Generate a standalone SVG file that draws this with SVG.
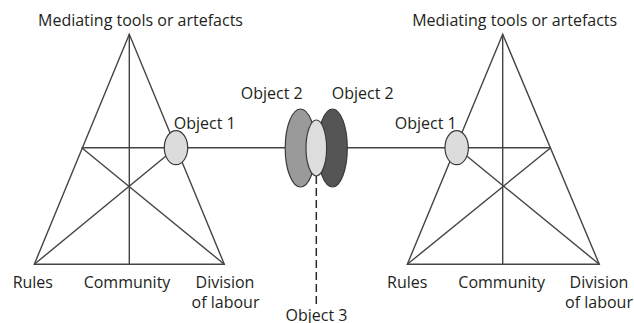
<svg xmlns="http://www.w3.org/2000/svg" width="634" height="323" viewBox="0 0 634 323">
  <style>
    .edge { stroke: #444444; stroke-width: 1.4; fill: none; }
    .dash { stroke: #2a2a2a; stroke-width: 1.5; fill: none; stroke-dasharray: 8 4; }
    .ell { stroke: #3a3a3a; stroke-width: 1.2; }
    text { font-family: "Open Sans", "Liberation Sans", sans-serif; font-size: 16px; fill: #231f20; text-anchor: middle; }
  </style>

  <!-- left activity system -->
  <g id="left-system">
    <path class="edge" d="M129.3,34.3 L34.3,264.3 L224.3,264.3 Z"/>
    <path class="edge" d="M129.3,34.3 L129.3,264.3"/>
    <path class="edge" d="M81.7,147.7 L176,147.7"/>
    <path class="edge" d="M81.7,147.7 L224.3,264.3"/>
    <path class="edge" d="M176,147.7 L34.3,264.3"/>
    <text x="140.5" y="26">Mediating tools or artefacts</text>
    <text x="32.8" y="288">Rules</text>
    <text x="127" y="288">Community</text>
    <text x="225" y="288">Division</text>
    <text x="225.5" y="308">of labour</text>
  </g>

  <!-- right activity system -->
  <g id="right-system">
    <path class="edge" d="M502.7,34.3 L407.3,264.3 L599.3,264.3 Z"/>
    <path class="edge" d="M502.7,34.3 L502.7,264.3"/>
    <path class="edge" d="M456.7,147.7 L550.7,147.7"/>
    <path class="edge" d="M550.7,147.7 L407.3,264.3"/>
    <path class="edge" d="M456.7,147.7 L599.3,264.3"/>
    <text x="514.7" y="26">Mediating tools or artefacts</text>
    <text x="407.2" y="288">Rules</text>
    <text x="501.7" y="288">Community</text>
    <text x="599" y="288">Division</text>
    <text x="599" y="308">of labour</text>
  </g>

  <!-- connectors between the systems -->
  <g id="connectors">
    <path class="edge" d="M188,147.7 L286,147.7"/>
    <path class="edge" d="M347,147.7 L445,147.7"/>
    <path class="dash" d="M316.3,176 L316.3,305"/>
  </g>

  <g id="object1-left">
    <ellipse class="ell" cx="176" cy="147.7" rx="11.7" ry="17" fill="#dcdcdc"/>
    <text x="204.7" y="128.5">Object 1</text>
  </g>

  <g id="object1-right">
    <ellipse class="ell" cx="456.7" cy="147.7" rx="11.7" ry="17" fill="#dcdcdc"/>
    <text x="425.8" y="128.5">Object 1</text>
  </g>

  <g id="object2-left">
    <ellipse class="ell" cx="300.5" cy="148" rx="15.3" ry="39" fill="#9a9a9a"/>
    <text x="271.7" y="98.5">Object 2</text>
  </g>

  <g id="object2-right">
    <ellipse class="ell" cx="332.5" cy="148" rx="14.8" ry="39" fill="#555555"/>
    <text x="362.8" y="98.5">Object 2</text>
  </g>

  <g id="object3">
    <ellipse class="ell" cx="316.3" cy="148" rx="10.3" ry="28" fill="#dddddd"/>
    <text x="316.5" y="320.5">Object 3</text>
  </g>
</svg>
